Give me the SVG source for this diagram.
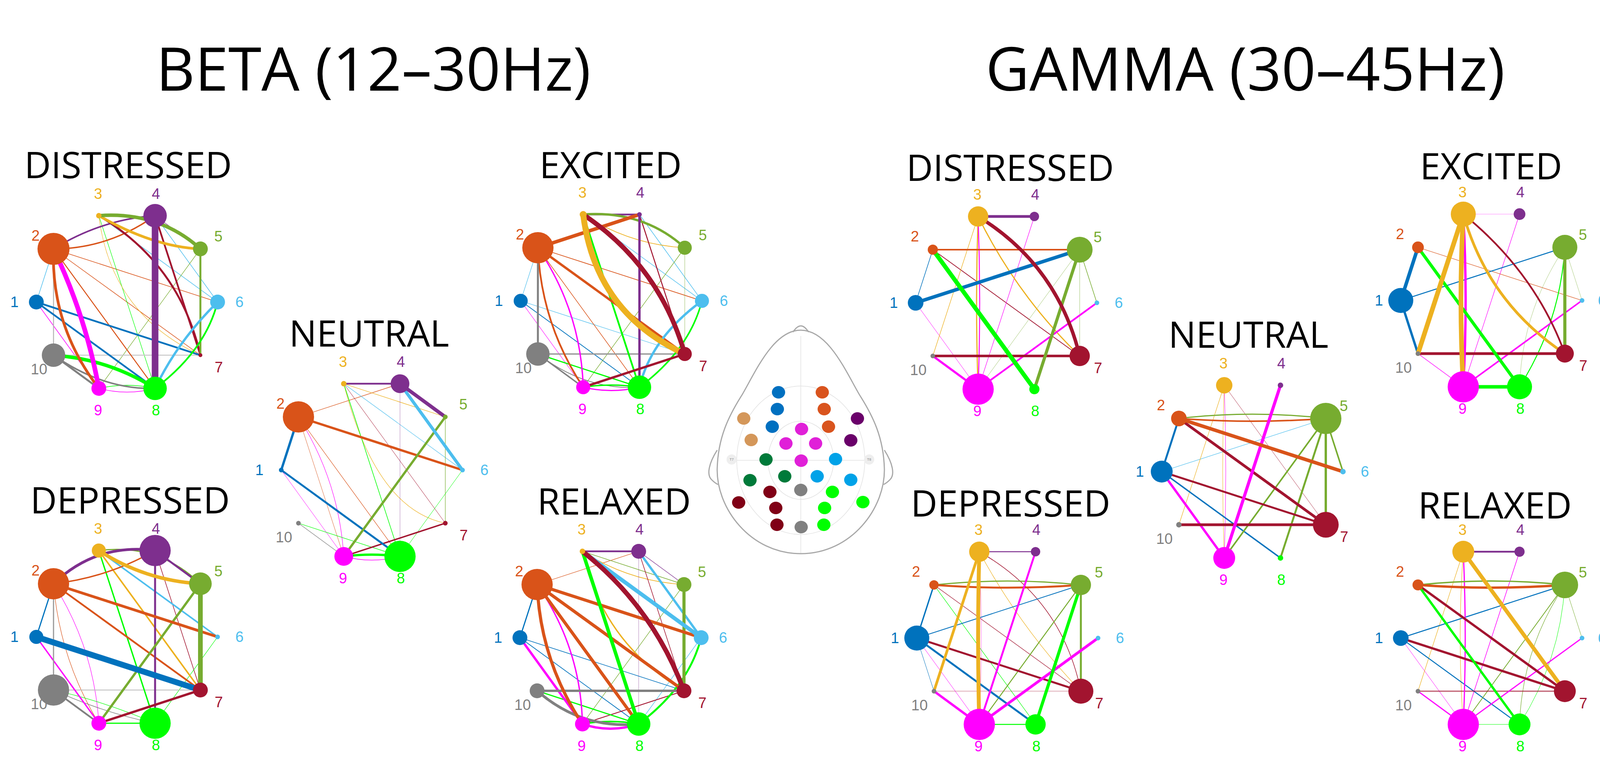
<svg xmlns="http://www.w3.org/2000/svg" width="4142" height="1963" viewBox="0 0 4142 1963">
<style>
.e{fill:none;stroke-linecap:round}
.c1{stroke:#0072BD}.c2{stroke:#D95319}.c3{stroke:#EDB120}.c4{stroke:#7E2F8E}.c5{stroke:#77AC30}.c6{stroke:#4DBEEE}.c7{stroke:#A2142F}.c8{stroke:#00FF00}.c9{stroke:#FF00FF}.c10{stroke:#808080}
.f1{fill:#0072BD}.f2{fill:#D95319}.f3{fill:#EDB120}.f4{fill:#7E2F8E}.f5{fill:#77AC30}.f6{fill:#4DBEEE}.f7{fill:#A2142F}.f8{fill:#00FF00}.f9{fill:#FF00FF}.f10{fill:#808080}
.l{font-family:"Liberation Sans",Arial,sans-serif;font-size:38px;text-anchor:middle;dominant-baseline:central}
.t{font-family:"Open Sans","Noto Sans",sans-serif;font-size:94px;text-anchor:middle;fill:#000}
.h{font-family:"Open Sans","Noto Sans",sans-serif;font-size:154px;text-anchor:middle;fill:#000}
.hd{fill:none;stroke:#a8a8a8;stroke-width:3}
.gr{fill:none;stroke:#e2e2e2;stroke-width:1.5}
</style>
<rect width="4142" height="1963" fill="#fff"/>
<text class="h" x="956" y="232">BETA (12–30Hz)</text>
<text class="h" x="3188" y="232">GAMMA (30–45Hz)</text>
<text class="t" x="328" y="456">DISTRESSED</text>
<text class="t" x="333" y="1314">DEPRESSED</text>
<text class="t" x="945" y="887">NEUTRAL</text>
<text class="t" x="1563" y="456">EXCITED</text>
<text class="t" x="1572" y="1317">RELAXED</text>
<text class="t" x="2586" y="463">DISTRESSED</text>
<text class="t" x="2587" y="1322">DEPRESSED</text>
<text class="t" x="3196" y="890">NEUTRAL</text>
<text class="t" x="3817" y="459">EXCITED</text>
<text class="t" x="3827" y="1327">RELAXED</text>

<g id="head">
<ellipse class="gr" cx="2050" cy="1178" rx="164" ry="190"/>
<ellipse class="gr" cx="2050" cy="1178" rx="84" ry="100"/>
<path class="gr" d="M2050 860L2050 1417M1886 1178L2214 1178"/>
<path class="hd" d="M2050 845C2120 845 2165 950 2200 1010C2235 1065 2262 1120 2264 1200C2266 1300 2180 1417 2050 1417C1920 1417 1834 1300 1836 1200C1838 1120 1865 1065 1900 1010C1935 950 1980 845 2050 845Z"/>
<path class="hd" d="M2030 850Q2050 818 2070 850"/>
<path class="hd" d="M1836 1152C1815 1185 1808 1215 1822 1228C1828 1234 1834 1238 1838 1240"/>
<path class="hd" d="M2264 1152C2285 1185 2292 1215 2278 1228C2272 1234 2266 1238 2262 1240"/>
<circle cx="1873" cy="1176" r="13" fill="#eeeeee"/>
<circle cx="2225" cy="1176" r="13" fill="#eeeeee"/>
<text x="1873" y="1179" font-family="Liberation Sans,sans-serif" font-size="9" fill="#888" text-anchor="middle">T7</text>
<text x="2225" y="1179" font-family="Liberation Sans,sans-serif" font-size="9" fill="#888" text-anchor="middle">T8</text>
<g fill="#0070C0"><ellipse cx="1993" cy="1004" rx="17" ry="16"/><ellipse cx="1990" cy="1047" rx="17" ry="16"/><ellipse cx="1977" cy="1092" rx="17" ry="16"/></g>
<g fill="#D9541E"><ellipse cx="2105" cy="1004" rx="17" ry="16"/><ellipse cx="2110" cy="1047" rx="17" ry="16"/><ellipse cx="2121" cy="1092" rx="17" ry="16"/></g>
<g fill="#D4975A"><ellipse cx="1904" cy="1071" rx="17" ry="16"/><ellipse cx="1923" cy="1126" rx="17" ry="16"/></g>
<g fill="#6A006A"><ellipse cx="2195" cy="1071" rx="17" ry="16"/><ellipse cx="2178" cy="1127" rx="17" ry="16"/></g>
<g fill="#E020D8"><ellipse cx="2052" cy="1098" rx="17" ry="16"/><ellipse cx="2012" cy="1135" rx="17" ry="16"/><ellipse cx="2088" cy="1135" rx="17" ry="16"/><ellipse cx="2051" cy="1179" rx="17" ry="16"/></g>
<g fill="#007A3A"><ellipse cx="1961" cy="1176" rx="17" ry="16"/><ellipse cx="1920" cy="1229" rx="17" ry="16"/><ellipse cx="2009" cy="1219" rx="17" ry="16"/></g>
<g fill="#00A2E8"><ellipse cx="2139" cy="1175" rx="17" ry="16"/><ellipse cx="2092" cy="1219" rx="17" ry="16"/><ellipse cx="2178" cy="1228" rx="17" ry="16"/></g>
<g fill="#800016"><ellipse cx="1971" cy="1259" rx="17" ry="16"/><ellipse cx="1891" cy="1286" rx="17" ry="16"/><ellipse cx="1986" cy="1300" rx="17" ry="16"/><ellipse cx="1989" cy="1343" rx="17" ry="16"/></g>
<g fill="#808080"><ellipse cx="2050" cy="1254" rx="17" ry="16"/><ellipse cx="2051" cy="1349" rx="17" ry="16"/></g>
<g fill="#00FF00"><ellipse cx="2131" cy="1259" rx="17" ry="16"/><ellipse cx="2111" cy="1300" rx="17" ry="16"/><ellipse cx="2209" cy="1285" rx="17" ry="16"/><ellipse cx="2109" cy="1343" rx="17" ry="16"/></g>
</g>

<!-- BETA DISTRESSED -->
<g id="beta-distressed" transform="translate(325,773)">
<g id="bd-edges">
<path class="e c6" stroke-width="1.5" d="M-232 0L-188 -136"/>
<path class="e c9" stroke-width="1.5" d="M-232 0L-72 221"/>
<path class="e c2" stroke-width="1.5" d="M-188 -136L232 0"/>
<path class="e c2" stroke-width="1.5" d="M-188 -136L188 136"/>
<path class="e c8" stroke-width="1.2" d="M-72 -221L72 221"/>
<path class="e c3" stroke-width="1.2" d="M-72 -221Q-41 30 188 136"/>
<path class="e c6" stroke-width="1.5" d="M-72 -221L232 0"/>
<path class="e c6" stroke-width="1.5" d="M72 -221L232 0"/>
<path class="e c4" stroke-width="1.2" d="M72 -221L188 -136"/>
<path class="e c5" stroke-width="1.2" d="M188 -136L-72 221"/>
<path class="e" stroke="#b4b4b4" stroke-width="2.5" d="M-188 136L-188 -136"/>
<path class="e" stroke="#c8c8c8" stroke-width="2.5" d="M-188 136L188 136"/>
<path class="e c8" stroke-width="1.5" d="M-72 221Q0 205 72 221"/>
<path class="e c9" stroke-width="1.5" d="M-72 221Q0 240 72 221"/>
<path class="e c2" stroke-width="2.5" d="M-188 -136L72 221"/>
<path class="e c4" stroke-width="4" d="M-188 -136Q-64 -212 72 -221"/>
<path class="e c2" stroke-width="3.5" d="M-188 -136Q-48 -136 72 -221"/>
<path class="e c1" stroke-width="4.5" d="M-232 0L188 136"/>
<path class="e c1" stroke-width="4.5" d="M-232 0L72 221"/>
<path class="e c7" stroke-width="4.5" d="M72 -221L188 136"/>
<path class="e c7" stroke-width="5" d="M-72 -221Q134 -98 188 136"/>
<path class="e c5" stroke-width="5" d="M188 -136L188 136"/>
<path class="e c6" stroke-width="6" d="M232 0Q130 100 72 221"/>
<path class="e c8" stroke-width="4.5" d="M232 0Q200 125 72 221"/>
<path class="e c10" stroke-width="5" d="M-188 136L-72 221"/>
<path class="e c10" stroke-width="4" d="M-188 136Q-60 225 72 221"/>
<path class="e c8" stroke-width="9" d="M-188 136Q-47 146 72 221"/>
<path class="e c3" stroke-width="7" d="M-72 -221Q68 -141 188 -136"/>
<path class="e c5" stroke-width="9" d="M-72 -221Q82 -232 188 -136"/>
<path class="e c2" stroke-width="7" d="M-188 -136Q-195 60 -72 221"/>
<path class="e c9" stroke-width="12" d="M-188 -136Q-106 35 -72 221"/>
<path class="e c4" stroke-width="17" d="M72 -221L72 221"/>
</g>
<g id="bd-n1"><circle class="f1" cx="-232" cy="0" r="19"/><text class="l f1" x="-288" y="0">1</text></g>
<g id="bd-n2"><circle class="f2" cx="-188" cy="-136" r="41"/><text class="l f2" x="-234" y="-170">2</text></g>
<g id="bd-n3"><circle class="f3" cx="-72" cy="-221" r="7"/><text class="l f3" x="-74" y="-277">3</text></g>
<g id="bd-n4"><circle class="f4" cx="72" cy="-221" r="30"/><text class="l f4" x="74" y="-277">4</text></g>
<g id="bd-n5"><circle class="f5" cx="188" cy="-136" r="19"/><text class="l f5" x="234" y="-168">5</text></g>
<g id="bd-n6"><circle class="f6" cx="232" cy="0" r="19"/><text class="l f6" x="288" y="0">6</text></g>
<g id="bd-n7"><circle class="f7" cx="188" cy="136" r="5"/><text class="l f7" x="235" y="167">7</text></g>
<g id="bd-n8"><circle class="f8" cx="72" cy="221" r="30"/><text class="l f8" x="74" y="277">8</text></g>
<g id="bd-n9"><circle class="f9" cx="-72" cy="221" r="19"/><text class="l f9" x="-74" y="277">9</text></g>
<g id="bd-n10"><circle class="f10" cx="-188" cy="136" r="30"/><text class="l f10" x="-225" y="172">10</text></g>
</g>

<!-- BETA DEPRESSED -->
<g id="beta-depressed" transform="translate(325,1630)">
<g id="bp-edges">
<path class="e c2" stroke-width="1.2" d="M-188 -136Q-172 57 -72 221"/>
<path class="e c9" stroke-width="1.2" d="M-188 -136Q-84 28 -72 221"/>
<path class="e c7" stroke-width="1.5" d="M72 -221L188 136"/>
<path class="e c8" stroke-width="1.2" d="M232 0L72 221"/>
<path class="e" stroke="#bbbbbb" stroke-width="1.8" d="M-188 136L188 136"/>
<path class="e c10" stroke-width="1.5" d="M-188 136Q-58 195 72 221"/>
<path class="e c8" stroke-width="1.2" d="M-188 136Q-58 165 72 221"/>
<path class="e c1" stroke-width="3" d="M-232 0L-188 -136"/>
<path class="e c9" stroke-width="3.5" d="M-232 0L-72 221"/>
<path class="e" stroke="#999999" stroke-width="3" d="M-188 -136L-188 136"/>
<path class="e c8" stroke-width="3" d="M-72 221L72 221"/>
<path class="e c8" stroke-width="3.5" d="M-72 -221L72 221"/>
<path class="e c3" stroke-width="4" d="M-72 -221L188 136"/>
<path class="e c6" stroke-width="4" d="M-72 -221L232 0"/>
<path class="e c2" stroke-width="4.5" d="M-188 -136L188 136"/>
<path class="e c2" stroke-width="3.5" d="M-188 -136Q-49 -152 72 -221"/>
<path class="e c5" stroke-width="3" d="M-72 -221Q80 -240 188 -136"/>
<path class="e c4" stroke-width="5" d="M72 -221L188 -136"/>
<path class="e c4" stroke-width="5" d="M72 -221L72 221"/>
<path class="e c10" stroke-width="4.5" d="M-188 136L-72 221"/>
<path class="e c5" stroke-width="6" d="M188 -136L-72 221"/>
<path class="e c7" stroke-width="6" d="M-72 221L188 136"/>
<path class="e c2" stroke-width="7" d="M-188 -136L232 0"/>
<path class="e c4" stroke-width="7" d="M-188 -136Q-78 -241 72 -221"/>
<path class="e c3" stroke-width="9" d="M-72 -221Q47 -144 188 -136"/>
<path class="e c5" stroke-width="12" d="M188 -136L188 136"/>
<path class="e c1" stroke-width="15" d="M-232 0L188 136"/>
</g>
<g id="bp-n1"><circle class="f1" cx="-232" cy="0" r="18"/><text class="l f1" x="-288" y="0">1</text></g>
<g id="bp-n2"><circle class="f2" cx="-188" cy="-136" r="40"/><text class="l f2" x="-234" y="-170">2</text></g>
<g id="bp-n3"><circle class="f3" cx="-72" cy="-221" r="18"/><text class="l f3" x="-74" y="-277">3</text></g>
<g id="bp-n4"><circle class="f4" cx="72" cy="-221" r="40"/><text class="l f4" x="74" y="-277">4</text></g>
<g id="bp-n5"><circle class="f5" cx="188" cy="-136" r="29"/><text class="l f5" x="234" y="-168">5</text></g>
<g id="bp-n6"><circle class="f6" cx="232" cy="0" r="6"/><text class="l f6" x="288" y="0">6</text></g>
<g id="bp-n7"><circle class="f7" cx="188" cy="136" r="19"/><text class="l f7" x="235" y="167">7</text></g>
<g id="bp-n8"><circle class="f8" cx="72" cy="221" r="40"/><text class="l f8" x="74" y="277">8</text></g>
<g id="bp-n9"><circle class="f9" cx="-72" cy="221" r="19"/><text class="l f9" x="-74" y="277">9</text></g>
<g id="bp-n10"><circle class="f10" cx="-188" cy="136" r="40"/><text class="l f10" x="-225" y="172">10</text></g>
</g>

<!-- BETA NEUTRAL -->
<g id="beta-neutral" transform="translate(952,1203)">
<g id="bn-edges">
<path class="e c2" stroke-width="1.3" d="M-188 -136L72 -221"/>
<path class="e c3" stroke-width="1.3" d="M-72 -221L188 -136"/>
<path class="e c6" stroke-width="1.2" d="M-72 -221L232 0"/>
<path class="e c7" stroke-width="1.2" opacity=".7" d="M-72 -221L188 136"/>
<path class="e c3" stroke-width="1.2" d="M-72 -221Q10 100 188 136"/>
<path class="e c8" stroke-width="1.5" d="M-72 -221L72 221"/>
<path class="e c4" stroke-width="1.2" opacity=".5" d="M72 -221L72 221"/>
<path class="e c5" stroke-width="1.2" d="M188 -136L188 136"/>
<path class="e c8" stroke-width="1" d="M232 0L72 221"/>
<path class="e c2" stroke-width="1.2" opacity=".7" d="M-188 -136L-72 221"/>
<path class="e c9" stroke-width="1.2" d="M-188 -136Q-84 28 -72 221"/>
<path class="e c2" stroke-width="1.2" d="M-188 -136L72 221"/>
<path class="e c9" stroke-width="1" d="M-232 0L-72 221"/>
<path class="e c8" stroke-width="1.3" d="M-188 136L72 221"/>
<path class="e c10" stroke-width="1.2" d="M-188 136L-72 221"/>
<path class="e c9" stroke-width="1.5" d="M-72 221Q0 240 72 221"/>
<path class="e c7" stroke-width="3.5" d="M-72 221L188 136"/>
<path class="e c4" stroke-width="4.5" d="M-72 -221L72 -221"/>
<path class="e c8" stroke-width="6" d="M-72 221Q0 212 72 221"/>
<path class="e c1" stroke-width="5" d="M-232 0L72 221"/>
<path class="e c1" stroke-width="6" d="M-232 0L-188 -136"/>
<path class="e c2" stroke-width="6" d="M-188 -136L232 0"/>
<path class="e c5" stroke-width="6" d="M188 -136L-72 221"/>
<path class="e c6" stroke-width="8" d="M72 -221L232 0"/>
<path class="e c4" stroke-width="9" d="M72 -221L188 -136"/>
</g>
<g id="bn-n1"><circle class="f1" cx="-232" cy="0" r="6"/><text class="l f1" x="-288" y="0">1</text></g>
<g id="bn-n2"><circle class="f2" cx="-188" cy="-136" r="40"/><text class="l f2" x="-234" y="-170">2</text></g>
<g id="bn-n3"><circle class="f3" cx="-72" cy="-221" r="7"/><text class="l f3" x="-74" y="-277">3</text></g>
<g id="bn-n4"><circle class="f4" cx="72" cy="-221" r="24"/><text class="l f4" x="74" y="-277">4</text></g>
<g id="bn-n5"><circle class="f5" cx="188" cy="-136" r="6"/><text class="l f5" x="234" y="-168">5</text></g>
<g id="bn-n6"><circle class="f6" cx="232" cy="0" r="6"/><text class="l f6" x="288" y="0">6</text></g>
<g id="bn-n7"><circle class="f7" cx="188" cy="136" r="6"/><text class="l f7" x="235" y="167">7</text></g>
<g id="bn-n8"><circle class="f8" cx="72" cy="221" r="40"/><text class="l f8" x="74" y="277">8</text></g>
<g id="bn-n9"><circle class="f9" cx="-72" cy="221" r="24"/><text class="l f9" x="-74" y="277">9</text></g>
<g id="bn-n10"><circle class="f10" cx="-188" cy="136" r="6"/><text class="l f10" x="-225" y="172">10</text></g>
</g>

<!-- BETA EXCITED -->
<g id="beta-excited" transform="translate(1565,770)">
<g id="be-edges">
<path class="e c6" stroke-width="1.2" d="M-232 0L-188 -136"/>
<path class="e c6" stroke-width="1.3" d="M-232 0L188 136"/>
<path class="e c1" stroke-width="1.8" d="M-232 0L72 221"/>
<path class="e c9" stroke-width="1.2" d="M-232 0L-72 221"/>
<path class="e c2" stroke-width="1.8" d="M-188 -136L232 0"/>
<path class="e c2" stroke-width="1.5" d="M-188 -136L72 221"/>
<path class="e c6" stroke-width="1.3" d="M-72 -221L232 0"/>
<path class="e c6" stroke-width="1.5" d="M72 -221L232 0"/>
<path class="e c3" stroke-width="1.8" d="M-72 -221Q47 -144 188 -136"/>
<path class="e c5" stroke-width="1.3" d="M188 -136L-72 221"/>
<path class="e c5" stroke-width="1.5" opacity=".5" d="M188 -136L188 136"/>
<path class="e c7" stroke-width="2.5" d="M72 -221L188 136"/>
<path class="e c10" stroke-width="2" d="M-188 136Q-65 230 72 221"/>
<path class="e" stroke="#999999" stroke-width="3.5" d="M-188 136L188 136"/>
<path class="e c10" stroke-width="3.5" d="M-188 136L-72 221"/>
<path class="e c8" stroke-width="3" d="M-188 136L72 221"/>
<path class="e c8" stroke-width="3.5" d="M-72 221Q0 210 72 221"/>
<path class="e c9" stroke-width="3" d="M-72 221Q0 238 72 221"/>
<path class="e c9" stroke-width="3.5" d="M-188 -136Q-78 26 -72 221"/>
<path class="e c2" stroke-width="4.5" d="M-188 -136Q-180 58 -72 221"/>
<path class="e c8" stroke-width="4.5" d="M-72 -221L72 221"/>
<path class="e c8" stroke-width="4" d="M232 0Q200 125 72 221"/>
<path class="e c4" stroke-width="4.5" d="M-72 -221L72 -221"/>
<path class="e c10" stroke-width="5" d="M-188 -136L-188 136"/>
<path class="e c2" stroke-width="6" d="M-188 -136L188 136"/>
<path class="e c5" stroke-width="6" d="M-72 -221Q82 -232 188 -136"/>
<path class="e c4" stroke-width="6" d="M72 -221L72 221"/>
<path class="e c6" stroke-width="6" d="M232 0Q102 95 72 221"/>
<path class="e c7" stroke-width="6" d="M-72 221L188 136"/>
<path class="e c2" stroke-width="9" d="M-188 -136L72 -221"/>
<path class="e c7" stroke-width="12" d="M-72 -221Q123 -90 188 136"/>
<path class="e c3" stroke-width="15" d="M-72 -221Q-41 30 188 136"/>
</g>
<g id="be-n1"><circle class="f1" cx="-232" cy="0" r="18"/><text class="l f1" x="-288" y="0">1</text></g>
<g id="be-n2"><circle class="f2" cx="-188" cy="-136" r="40"/><text class="l f2" x="-234" y="-170">2</text></g>
<g id="be-n3"><circle class="f3" cx="-72" cy="-221" r="9"/><text class="l f3" x="-74" y="-277">3</text></g>
<g id="be-n4"><circle class="f4" cx="72" cy="-221" r="6"/><text class="l f4" x="74" y="-277">4</text></g>
<g id="be-n5"><circle class="f5" cx="188" cy="-136" r="18"/><text class="l f5" x="234" y="-168">5</text></g>
<g id="be-n6"><circle class="f6" cx="232" cy="0" r="18"/><text class="l f6" x="288" y="0">6</text></g>
<g id="be-n7"><circle class="f7" cx="188" cy="136" r="18"/><text class="l f7" x="235" y="167">7</text></g>
<g id="be-n8"><circle class="f8" cx="72" cy="221" r="30"/><text class="l f8" x="74" y="277">8</text></g>
<g id="be-n9"><circle class="f9" cx="-72" cy="221" r="18"/><text class="l f9" x="-74" y="277">9</text></g>
<g id="be-n10"><circle class="f10" cx="-188" cy="136" r="30"/><text class="l f10" x="-225" y="172">10</text></g>
</g>

<!-- BETA RELAXED -->
<g id="beta-relaxed" transform="translate(1563,1632)">
<g id="br-edges">
<path class="e c2" stroke-width="1.3" d="M-188 -136L72 -221"/>
<path class="e c5" stroke-width="1.5" d="M-72 -221L188 -136"/>
<path class="e c3" stroke-width="1.8" d="M-72 -221Q47 -144 188 -136"/>
<path class="e c4" stroke-width="1.2" d="M72 -221L188 -136"/>
<path class="e c7" stroke-width="1.5" d="M72 -221L188 136"/>
<path class="e c4" stroke-width="1.2" opacity=".5" d="M72 -221L72 221"/>
<path class="e c5" stroke-width="1.3" d="M188 -136L-72 221"/>
<path class="e c6" stroke-width="1.3" d="M232 0L72 221"/>
<path class="e c1" stroke-width="1.5" d="M-232 0L188 136"/>
<path class="e c1" stroke-width="1.8" d="M-232 0L72 221"/>
<path class="e c7" stroke-width="2.2" d="M-72 221L188 136"/>
<path class="e c1" stroke-width="3" d="M-232 0L-188 -136"/>
<path class="e c4" stroke-width="4.5" d="M-72 -221L72 -221"/>
<path class="e c3" stroke-width="3.5" d="M-72 -221Q-20 14 188 136"/>
<path class="e c8" stroke-width="3" d="M-188 136L72 221"/>
<path class="e c8" stroke-width="4" d="M-72 221Q0 208 72 221"/>
<path class="e c9" stroke-width="3.5" d="M-188 -136Q-76 25 -72 221"/>
<path class="e c8" stroke-width="5" d="M232 0Q200 125 72 221"/>
<path class="e c9" stroke-width="6" d="M-232 0L-72 221"/>
<path class="e c10" stroke-width="6" d="M-188 136L188 136"/>
<path class="e c10" stroke-width="7" d="M-188 136Q-75 235 72 221"/>
<path class="e c9" stroke-width="6" d="M-72 221Q0 245 72 221"/>
<path class="e c6" stroke-width="6" d="M72 -221L232 0"/>
<path class="e c5" stroke-width="8" d="M188 -136L188 136"/>
<path class="e c2" stroke-width="8" d="M-188 -136L232 0"/>
<path class="e c2" stroke-width="8" d="M-188 -136L188 136"/>
<path class="e c2" stroke-width="8" d="M-188 -136L72 221"/>
<path class="e c2" stroke-width="8" d="M-188 -136Q-180 58 -72 221"/>
<path class="e c8" stroke-width="9" d="M-72 -221L72 221"/>
<path class="e c6" stroke-width="10" d="M-72 -221L232 0"/>
<path class="e c7" stroke-width="12" d="M-72 -221Q108 -79 188 136"/>
</g>
<g id="br-n1"><circle class="f1" cx="-232" cy="0" r="19"/><text class="l f1" x="-288" y="0">1</text></g>
<g id="br-n2"><circle class="f2" cx="-188" cy="-136" r="40"/><text class="l f2" x="-234" y="-170">2</text></g>
<g id="br-n3"><circle class="f3" cx="-72" cy="-221" r="7"/><text class="l f3" x="-74" y="-277">3</text></g>
<g id="br-n4"><circle class="f4" cx="72" cy="-221" r="19"/><text class="l f4" x="74" y="-277">4</text></g>
<g id="br-n5"><circle class="f5" cx="188" cy="-136" r="19"/><text class="l f5" x="234" y="-168">5</text></g>
<g id="br-n6"><circle class="f6" cx="232" cy="0" r="19"/><text class="l f6" x="288" y="0">6</text></g>
<g id="br-n7"><circle class="f7" cx="188" cy="136" r="19"/><text class="l f7" x="235" y="167">7</text></g>
<g id="br-n8"><circle class="f8" cx="72" cy="221" r="30"/><text class="l f8" x="74" y="277">8</text></g>
<g id="br-n9"><circle class="f9" cx="-72" cy="221" r="19"/><text class="l f9" x="-74" y="277">9</text></g>
<g id="br-n10"><circle class="f10" cx="-188" cy="136" r="19"/><text class="l f10" x="-225" y="172">10</text></g>
</g>

<!-- GAMMA DISTRESSED -->
<g id="gamma-distressed" transform="translate(2576,775)">
<g id="gd-edges">
<path class="e c1" stroke-width="1.5" d="M-232 0L-188 -136"/>
<path class="e c9" stroke-width="1" d="M-232 0L-72 221"/>
<path class="e c7" stroke-width="1.8" d="M-188 -136L188 136"/>
<path class="e c3" stroke-width="1.3" d="M-72 -221L-188 136"/>
<path class="e c9" stroke-width="1.2" d="M72 -221L-72 221"/>
<path class="e c5" stroke-width="1" opacity=".7" d="M188 -136L-72 221"/>
<path class="e c5" stroke-width="1.2" opacity=".6" d="M188 -136L188 136"/>
<path class="e c5" stroke-width="1.5" d="M188 -136L232 0"/>
<path class="e c3" stroke-width="3" d="M-72 -221Q-80 0 -72 221"/>
<path class="e c9" stroke-width="2.5" d="M-72 -221Q-64 0 -72 221"/>
<path class="e c3" stroke-width="3" d="M-72 -221Q27 -20 188 136"/>
<path class="e c2" stroke-width="4" d="M-188 -136L188 -136"/>
<path class="e c9" stroke-width="4.5" d="M232 0L-72 221"/>
<path class="e c9" stroke-width="5.5" d="M-188 136L-72 221"/>
<path class="e c7" stroke-width="6.5" d="M-188 136L188 136"/>
<path class="e c4" stroke-width="7" d="M-72 -221L72 -221"/>
<path class="e c5" stroke-width="8" d="M188 -136L72 221"/>
<path class="e c1" stroke-width="9" d="M-232 0L188 -136"/>
<path class="e c7" stroke-width="9" d="M-72 -221Q131 -96 188 136"/>
<path class="e c8" stroke-width="11" d="M-188 -136L72 221"/>
</g>
<g id="gd-n1"><circle class="f1" cx="-232" cy="0" r="20"/><text class="l f1" x="-288" y="0">1</text></g>
<g id="gd-n2"><circle class="f2" cx="-188" cy="-136" r="13"/><text class="l f2" x="-234" y="-170">2</text></g>
<g id="gd-n3"><circle class="f3" cx="-72" cy="-221" r="26"/><text class="l f3" x="-74" y="-277">3</text></g>
<g id="gd-n4"><circle class="f4" cx="72" cy="-221" r="12"/><text class="l f4" x="74" y="-277">4</text></g>
<g id="gd-n5"><circle class="f5" cx="188" cy="-136" r="33"/><text class="l f5" x="234" y="-168">5</text></g>
<g id="gd-n6"><circle class="f6" cx="232" cy="0" r="6"/><text class="l f6" x="288" y="0">6</text></g>
<g id="gd-n7"><circle class="f7" cx="188" cy="136" r="26"/><text class="l f7" x="235" y="167">7</text></g>
<g id="gd-n8"><circle class="f8" cx="72" cy="221" r="13"/><text class="l f8" x="74" y="277">8</text></g>
<g id="gd-n9"><circle class="f9" cx="-72" cy="221" r="40"/><text class="l f9" x="-74" y="277">9</text></g>
<g id="gd-n10"><circle class="f10" cx="-188" cy="136" r="6"/><text class="l f10" x="-225" y="172">10</text></g>
</g>

<!-- GAMMA DEPRESSED -->
<g id="gamma-depressed" transform="translate(2579,1633)">
<g id="gp-edges">
<path class="e c7" stroke-width="1.2" d="M-188 -136L188 136"/>
<path class="e c8" stroke-width="1.2" d="M-188 -136L72 221"/>
<path class="e c3" stroke-width="1.2" d="M-72 -221Q34 -25 188 136"/>
<path class="e c7" stroke-width="1.5" d="M-72 -221Q140 -100 188 136"/>
<path class="e c1" stroke-width="1" d="M-232 0L-188 136"/>
<path class="e c9" stroke-width="1" d="M-232 0L-72 221"/>
<path class="e c9" stroke-width="1.2" opacity=".5" d="M-72 -221Q-62 0 -72 221"/>
<path class="e c7" stroke-width="3" opacity=".25" d="M-188 136L188 136"/>
<path class="e c1" stroke-width="2" d="M-232 0L188 -136"/>
<path class="e c4" stroke-width="2.5" d="M-72 -221L72 -221"/>
<path class="e c5" stroke-width="2.5" d="M188 -136L-72 221"/>
<path class="e c8" stroke-width="2.5" d="M-72 221L72 221"/>
<path class="e c1" stroke-width="3.5" d="M-232 0L-188 -136"/>
<path class="e c5" stroke-width="3" d="M-188 -136Q0 -156 188 -136"/>
<path class="e c2" stroke-width="5" d="M-188 -136Q0 -122 188 -136"/>
<path class="e c5" stroke-width="5" d="M188 -136L188 136"/>
<path class="e c7" stroke-width="5" d="M-232 0L188 136"/>
<path class="e c1" stroke-width="5" d="M-232 0L72 221"/>
<path class="e c9" stroke-width="5" d="M72 -221L-72 221"/>
<path class="e c9" stroke-width="6" d="M-188 136L-72 221"/>
<path class="e c9" stroke-width="7" d="M232 0L-72 221"/>
<path class="e c3" stroke-width="7" d="M-72 -221L-188 136"/>
<path class="e c8" stroke-width="8" d="M188 -136L72 221"/>
<path class="e c3" stroke-width="10" d="M-72 -221Q-78 0 -72 221"/>
</g>
<g id="gp-n1"><circle class="f1" cx="-232" cy="0" r="32"/><text class="l f1" x="-288" y="0">1</text></g>
<g id="gp-n2"><circle class="f2" cx="-188" cy="-136" r="12"/><text class="l f2" x="-234" y="-170">2</text></g>
<g id="gp-n3"><circle class="f3" cx="-72" cy="-221" r="26"/><text class="l f3" x="-74" y="-277">3</text></g>
<g id="gp-n4"><circle class="f4" cx="72" cy="-221" r="12"/><text class="l f4" x="74" y="-277">4</text></g>
<g id="gp-n5"><circle class="f5" cx="188" cy="-136" r="26"/><text class="l f5" x="234" y="-168">5</text></g>
<g id="gp-n6"><circle class="f6" cx="232" cy="0" r="6"/><text class="l f6" x="288" y="0">6</text></g>
<g id="gp-n7"><circle class="f7" cx="188" cy="136" r="32"/><text class="l f7" x="235" y="167">7</text></g>
<g id="gp-n8"><circle class="f8" cx="72" cy="221" r="26"/><text class="l f8" x="74" y="277">8</text></g>
<g id="gp-n9"><circle class="f9" cx="-72" cy="221" r="40"/><text class="l f9" x="-74" y="277">9</text></g>
<g id="gp-n10"><circle class="f10" cx="-188" cy="136" r="6"/><text class="l f10" x="-225" y="172">10</text></g>
</g>

<!-- GAMMA NEUTRAL -->
<g id="gamma-neutral" transform="translate(3206,1207)">
<g id="gn-edges">
<path class="e c6" stroke-width="1.2" d="M-232 0L188 -136"/>
<path class="e c7" stroke-width="1.2" opacity=".6" d="M-72 -221L188 136"/>
<path class="e c3" stroke-width="1.2" d="M-72 -221L-188 136"/>
<path class="e c3" stroke-width="1" d="M-72 -221Q-80 0 -72 221"/>
<path class="e c9" stroke-width="1" d="M-72 -221Q-64 0 -72 221"/>
<path class="e c1" stroke-width="3.5" d="M-232 0L72 221"/>
<path class="e c5" stroke-width="3" d="M-188 -136Q0 -158 188 -136"/>
<path class="e c2" stroke-width="4" d="M-188 -136Q0 -122 188 -136"/>
<path class="e c5" stroke-width="4" d="M188 -136L232 0"/>
<path class="e c5" stroke-width="4" d="M188 -136L-72 221"/>
<path class="e c5" stroke-width="5" d="M188 -136L72 221"/>
<path class="e c1" stroke-width="5" d="M-232 0L-188 -136"/>
<path class="e c7" stroke-width="5" d="M-232 0L188 136"/>
<path class="e c5" stroke-width="6" d="M188 -136L188 136"/>
<path class="e c9" stroke-width="6" d="M-232 0L-72 221"/>
<path class="e c7" stroke-width="7" d="M-188 -136L188 136"/>
<path class="e c7" stroke-width="7" d="M-188 136L188 136"/>
<path class="e c9" stroke-width="8" d="M72 -221L-72 221"/>
<path class="e c2" stroke-width="9" d="M-188 -136L232 0"/>
</g>
<g id="gn-n1"><circle class="f1" cx="-232" cy="0" r="28"/><text class="l f1" x="-288" y="0">1</text></g>
<g id="gn-n2"><circle class="f2" cx="-188" cy="-136" r="20"/><text class="l f2" x="-234" y="-170">2</text></g>
<g id="gn-n3"><circle class="f3" cx="-72" cy="-221" r="21"/><text class="l f3" x="-74" y="-277">3</text></g>
<g id="gn-n4"><circle class="f4" cx="72" cy="-221" r="7"/><text class="l f4" x="74" y="-277">4</text></g>
<g id="gn-n5"><circle class="f5" cx="188" cy="-136" r="40"/><text class="l f5" x="234" y="-168">5</text></g>
<g id="gn-n6"><circle class="f6" cx="232" cy="0" r="7"/><text class="l f6" x="288" y="0">6</text></g>
<g id="gn-n7"><circle class="f7" cx="188" cy="136" r="33"/><text class="l f7" x="235" y="167">7</text></g>
<g id="gn-n8"><circle class="f8" cx="72" cy="221" r="7"/><text class="l f8" x="74" y="277">8</text></g>
<g id="gn-n9"><circle class="f9" cx="-72" cy="221" r="28"/><text class="l f9" x="-74" y="277">9</text></g>
<g id="gn-n10"><circle class="f10" cx="-188" cy="136" r="7"/><text class="l f10" x="-225" y="172">10</text></g>
</g>

<!-- GAMMA EXCITED -->
<g id="gamma-excited" transform="translate(3818,769)">
<g id="ge-edges">
<path class="e c9" stroke-width="1.2" opacity=".5" d="M-72 -221L72 -221"/>
<path class="e c9" stroke-width="1.2" d="M72 -221L-72 221"/>
<path class="e c2" stroke-width="1.2" d="M-188 -136L232 0"/>
<path class="e c5" stroke-width="1.2" opacity=".5" d="M188 -136Q79 26 72 221"/>
<path class="e c5" stroke-width="1.2" opacity=".5" d="M188 -136L232 0"/>
<path class="e c9" stroke-width="1.5" d="M-188 136L-72 221"/>
<path class="e c1" stroke-width="2.5" d="M-232 0L188 -136"/>
<path class="e c8" stroke-width="2.5" d="M188 -136Q176 57 72 221"/>
<path class="e c9" stroke-width="4" d="M232 0L-72 221"/>
<path class="e c7" stroke-width="4.5" d="M-72 -221Q112 -72 188 136"/>
<path class="e c1" stroke-width="6" d="M-232 0L-188 136"/>
<path class="e c7" stroke-width="7" d="M-188 136L188 136"/>
<path class="e c9" stroke-width="6" d="M-72 -221Q-60 0 -72 221"/>
<path class="e c3" stroke-width="7" d="M-72 -221Q-8 6 188 136"/>
<path class="e c5" stroke-width="8" d="M188 -136L188 136"/>
<path class="e c8" stroke-width="8" d="M-188 -136L72 221"/>
<path class="e c1" stroke-width="9" d="M-232 0L-188 -136"/>
<path class="e c8" stroke-width="9" d="M-72 221L72 221"/>
<path class="e c3" stroke-width="12" d="M-72 -221L-188 136"/>
<path class="e c3" stroke-width="12" d="M-72 -221Q-84 0 -72 221"/>
</g>
<g id="ge-n1"><circle class="f1" cx="-232" cy="0" r="32"/><text class="l f1" x="-288" y="0">1</text></g>
<g id="ge-n2"><circle class="f2" cx="-188" cy="-136" r="15"/><text class="l f2" x="-234" y="-170">2</text></g>
<g id="ge-n3"><circle class="f3" cx="-72" cy="-221" r="32"/><text class="l f3" x="-74" y="-277">3</text></g>
<g id="ge-n4"><circle class="f4" cx="72" cy="-221" r="15"/><text class="l f4" x="74" y="-277">4</text></g>
<g id="ge-n5"><circle class="f5" cx="188" cy="-136" r="32"/><text class="l f5" x="234" y="-168">5</text></g>
<g id="ge-n6"><circle class="f6" cx="232" cy="0" r="6"/><text class="l f6" x="283" y="0">6</text></g>
<g id="ge-n7"><circle class="f7" cx="188" cy="136" r="23"/><text class="l f7" x="235" y="167">7</text></g>
<g id="ge-n8"><circle class="f8" cx="72" cy="221" r="32"/><text class="l f8" x="74" y="277">8</text></g>
<g id="ge-n9"><circle class="f9" cx="-72" cy="221" r="40"/><text class="l f9" x="-74" y="277">9</text></g>
<g id="ge-n10"><circle class="f10" cx="-188" cy="136" r="6"/><text class="l f10" x="-225" y="172">10</text></g>
</g>

<!-- GAMMA RELAXED -->
<g id="gamma-relaxed" transform="translate(3818,1633)">
<g id="gr-edges">
<path class="e c9" stroke-width="1" d="M-232 0L-72 221"/>
<path class="e c3" stroke-width="1.2" d="M-72 -221L-188 136"/>
<path class="e c3" stroke-width="1.2" d="M-72 -221Q-88 0 -72 221"/>
<path class="e c9" stroke-width="1.5" d="M72 -221L-72 221"/>
<path class="e c5" stroke-width="1.2" d="M188 -136Q79 26 72 221"/>
<path class="e c8" stroke-width="1" d="M188 -136Q176 57 72 221"/>
<path class="e c5" stroke-width="1" d="M188 -136L232 0"/>
<path class="e c8" stroke-width="1" d="M-72 221L72 221"/>
<path class="e c1" stroke-width="2.5" d="M-232 0L188 -136"/>
<path class="e c1" stroke-width="2.5" d="M-232 0L72 221"/>
<path class="e c5" stroke-width="2" d="M188 -136L-72 221"/>
<path class="e c7" stroke-width="3" opacity=".7" d="M-188 136L188 136"/>
<path class="e c9" stroke-width="3" d="M-188 136L-72 221"/>
<path class="e c9" stroke-width="3" d="M232 0L-72 221"/>
<path class="e c9" stroke-width="3" d="M-72 -221Q-62 0 -72 221"/>
<path class="e c5" stroke-width="3.5" d="M-188 -136Q0 -156 188 -136"/>
<path class="e c4" stroke-width="4.5" d="M-72 -221L72 -221"/>
<path class="e c2" stroke-width="6" d="M-188 -136Q0 -122 188 -136"/>
<path class="e c7" stroke-width="6" d="M-188 -136L188 136"/>
<path class="e c7" stroke-width="6" d="M-232 0L188 136"/>
<path class="e c8" stroke-width="6" d="M-188 -136L72 221"/>
<path class="e c3" stroke-width="10" d="M-72 -221L188 136"/>
</g>
<g id="gr-n1"><circle class="f1" cx="-232" cy="0" r="20"/><text class="l f1" x="-288" y="0">1</text></g>
<g id="gr-n2"><circle class="f2" cx="-188" cy="-136" r="14"/><text class="l f2" x="-234" y="-170">2</text></g>
<g id="gr-n3"><circle class="f3" cx="-72" cy="-221" r="28"/><text class="l f3" x="-74" y="-277">3</text></g>
<g id="gr-n4"><circle class="f4" cx="72" cy="-221" r="13"/><text class="l f4" x="74" y="-277">4</text></g>
<g id="gr-n5"><circle class="f5" cx="188" cy="-136" r="34"/><text class="l f5" x="234" y="-168">5</text></g>
<g id="gr-n6"><circle class="f6" cx="232" cy="0" r="6"/><text class="l f6" x="283" y="0">6</text></g>
<g id="gr-n7"><circle class="f7" cx="188" cy="136" r="28"/><text class="l f7" x="235" y="167">7</text></g>
<g id="gr-n8"><circle class="f8" cx="72" cy="221" r="28"/><text class="l f8" x="74" y="277">8</text></g>
<g id="gr-n9"><circle class="f9" cx="-72" cy="221" r="40"/><text class="l f9" x="-74" y="277">9</text></g>
<g id="gr-n10"><circle class="f10" cx="-188" cy="136" r="6"/><text class="l f10" x="-225" y="172">10</text></g>
</g>
</svg>
